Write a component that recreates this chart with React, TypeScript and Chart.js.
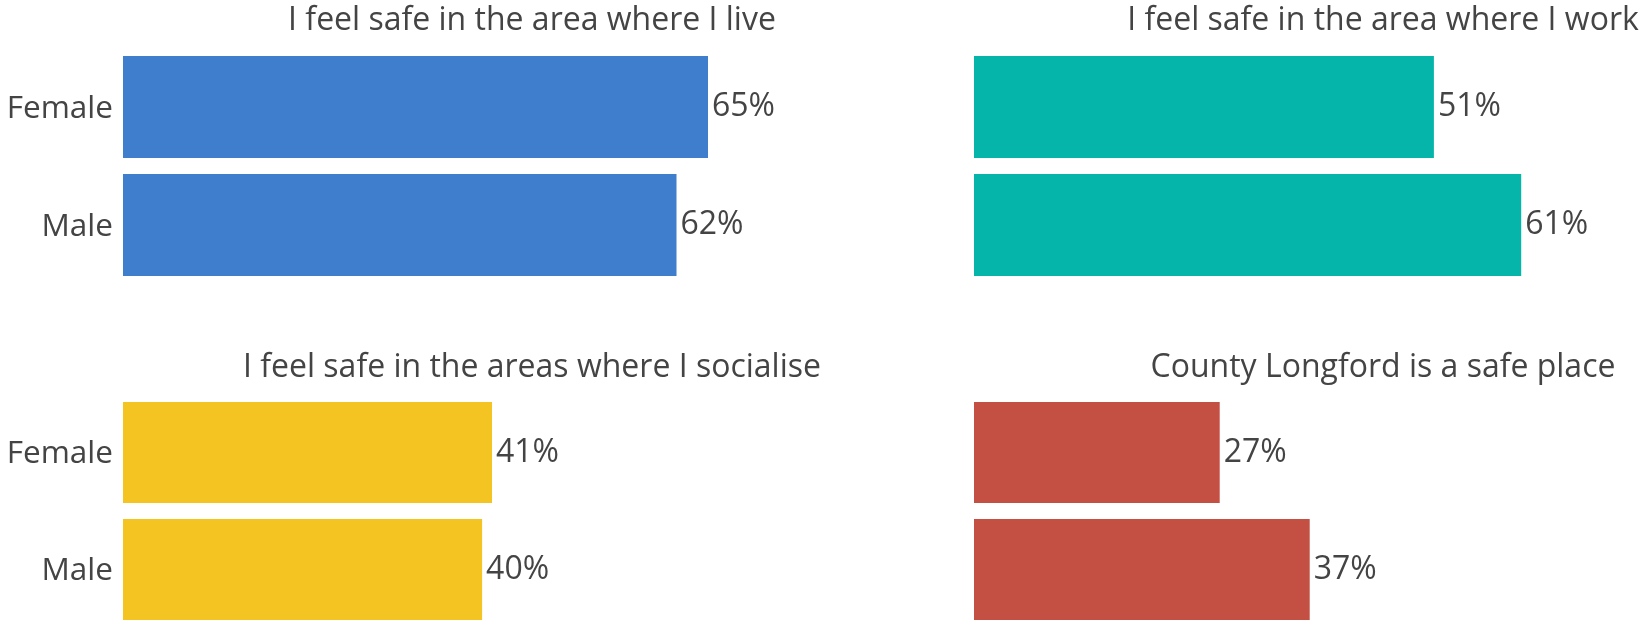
import React, { useEffect, useRef } from 'react';
import { Chart, registerables } from 'chart.js';

Chart.register(...registerables);

// ---------- data ----------
const categories = ['Female', 'Male'];
const liveValues = [65.0, 61.5];
const workValues = [51.1, 60.8];
const socialiseValues = [41.0, 39.9];
const countyValues = [27.3, 37.3];

const panelTitles = [
  'I feel safe in the area where I live',
  'I feel safe in the area where I work',
  'I feel safe in the areas where I socialise',
  'County Longford is a safe place',
];

// ---------- style ----------
const FONT = '"Open Sans", "Noto Sans", sans-serif';
const TEXT = '#444444';
const BLUE = '#3E7ECC';
const TEAL = '#05B5AA';
const YELLOW = '#F4C423';
const RED = '#C44F43';
const TITLE_SIZE = 32;
const VALUE_SIZE = 32;
const TICK_SIZE = 31.5;

type PanelSpec = {
  title: string;
  values: number[];
  color: string;
  left: number;
  top: number;
  width: number;
  height: number;
  xMax: number;
  showCategories: boolean;
  padTop: number;
  padBottom: number;
  padRight: number;
  titleDy: number;
};

const titlePlugin = {
  id: 'panelTitle',
  afterDraw(chart: any, _args: any, opts: any) {
    const { ctx, chartArea } = chart;
    ctx.save();
    ctx.font = `${TITLE_SIZE}px ${FONT}`;
    ctx.fillStyle = TEXT;
    ctx.textAlign = 'center';
    ctx.textBaseline = 'alphabetic';
    ctx.fillText(opts.text, chartArea.left + opts.dx, chartArea.top + opts.dy);
    ctx.restore();
  },
};

const valueLabelPlugin = {
  id: 'valueLabels',
  afterDatasetsDraw(chart: any) {
    const { ctx } = chart;
    const meta = chart.getDatasetMeta(0);
    const data = chart.data.datasets[0].data as number[];
    ctx.save();
    ctx.font = `${VALUE_SIZE}px ${FONT}`;
    ctx.fillStyle = TEXT;
    ctx.textAlign = 'left';
    ctx.textBaseline = 'alphabetic';
    meta.data.forEach((bar: any, i: number) => {
      ctx.fillText(Math.round(data[i]) + '%', bar.x + 4, bar.y + 9);
    });
    ctx.restore();
  },
};

function Panel({ spec }: { spec: PanelSpec }) {
  const ref = useRef<HTMLCanvasElement | null>(null);

  useEffect(() => {
    let chart: Chart | null = null;
    let cancelled = false;
    const make = () => {
      if (cancelled || !ref.current) return;
      chart = new Chart(ref.current, {
        type: 'bar',
        data: {
          labels: categories,
          datasets: [
            {
              data: spec.values,
              backgroundColor: spec.color,
              borderWidth: 0,
              barPercentage: 0.864,
              categoryPercentage: 1,
            },
          ],
        },
        options: {
          indexAxis: 'y',
          responsive: false,
          animation: false,
          devicePixelRatio: 1,
          layout: {
            padding: { left: 0, right: spec.padRight, top: spec.padTop, bottom: spec.padBottom },
          },
          scales: {
            x: { type: 'linear', min: 0, max: spec.xMax, display: false },
            y: {
              type: 'category',
              display: spec.showCategories,
              grid: { display: false, drawTicks: false },
              border: { display: false },
              ticks: {
                autoSkip: false,
                padding: 10,
                labelOffset: 2,
                color: TEXT,
                font: { family: FONT, size: TICK_SIZE },
              },
              afterFit: (scale: any) => {
                scale.paddingTop = 0;
                scale.paddingBottom = 0;
                if (spec.showCategories) scale.width = 123;
              },
            },
          },
          plugins: {
            legend: { display: false },
            tooltip: { enabled: false },
            title: { display: false },
            // @ts-ignore
            panelTitle: { text: spec.title, dx: 409, dy: spec.titleDy },
          },
        },
        plugins: [titlePlugin, valueLabelPlugin],
      } as any);
    };
    const fonts: any = (document as any).fonts;
    if (fonts && fonts.load) {
      fonts.load(`32px "Open Sans"`).then(make, make);
    } else {
      make();
    }
    return () => {
      cancelled = true;
      if (chart) chart.destroy();
    };
  }, [spec]);

  return (
    <canvas
      ref={ref}
      width={spec.width}
      height={spec.height}
      style={{
        position: 'absolute',
        left: spec.left,
        top: spec.top,
        width: spec.width,
        height: spec.height,
        display: 'block',
      }}
    />
  );
}

const panels: PanelSpec[] = [
  {
    title: panelTitles[0], values: liveValues, color: BLUE,
    left: 0, top: 0, width: 860, height: 300, xMax: 80, showCategories: true,
    padTop: 48, padBottom: 16, padRight: 17, titleDy: -18,
  },
  {
    title: panelTitles[1], values: workValues, color: TEAL,
    left: 974, top: 0, width: 666, height: 300, xMax: 74, showCategories: false,
    padTop: 48, padBottom: 16, padRight: 0, titleDy: -18,
  },
  {
    title: panelTitles[2], values: socialiseValues, color: YELLOW,
    left: 0, top: 340, width: 860, height: 290, xMax: 80, showCategories: true,
    padTop: 54, padBottom: 2, padRight: 17, titleDy: -17,
  },
  {
    title: panelTitles[3], values: countyValues, color: RED,
    left: 974, top: 340, width: 666, height: 290, xMax: 74, showCategories: false,
    padTop: 54, padBottom: 2, padRight: 0, titleDy: -17,
  },
];

export default function App() {
  return (
    <div
      style={{
        position: 'absolute',
        left: 0,
        top: 0,
        width: 1640,
        height: 622,
        overflow: 'hidden',
        background: '#ffffff',
      }}
    >
      {panels.map((p, i) => (
        <Panel key={i} spec={p} />
      ))}
    </div>
  );
}
